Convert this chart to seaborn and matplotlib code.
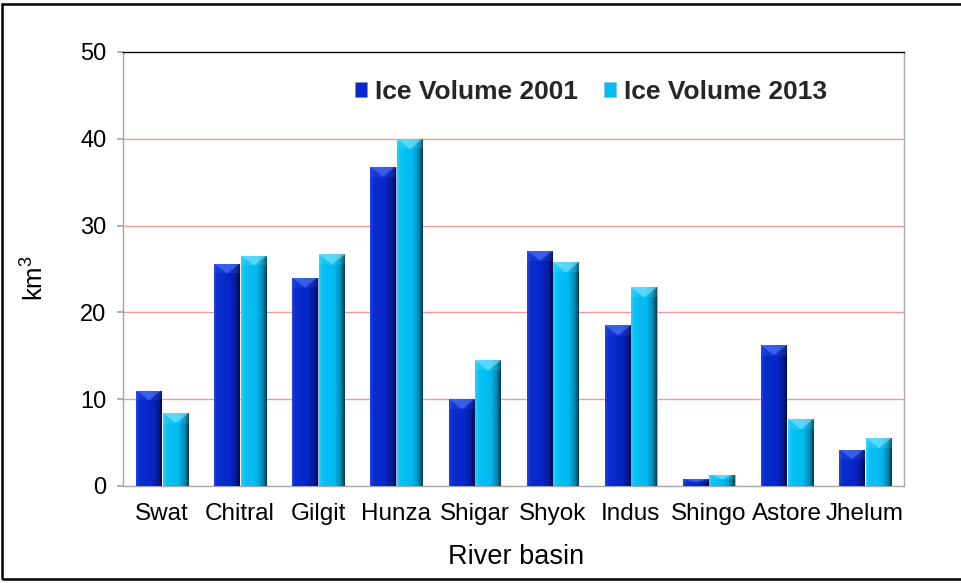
import numpy as np
import pandas as pd
import matplotlib
matplotlib.use("Agg")
import matplotlib.pyplot as plt
from matplotlib.patches import Patch, Rectangle
from matplotlib.colors import LinearSegmentedColormap
import seaborn as sns

basins = ["Swat", "Chitral", "Gilgit", "Hunza", "Shigar", "Shyok", "Indus", "Shingo", "Astore", "Jhelum"]
vol_2001 = [11.0, 25.6, 24.0, 36.8, 10.0, 27.1, 18.5, 0.8, 16.2, 4.2]
vol_2013 = [8.4, 26.5, 26.7, 40.0, 14.5, 25.8, 22.9, 1.3, 7.7, 5.5]
series = ["Ice Volume 2001", "Ice Volume 2013"]
y_ticks = [0, 10, 20, 30, 40, 50]

df = pd.DataFrame({
    "basin": basins * 2,
    "volume": vol_2001 + vol_2013,
    "series": [series[0]] * len(basins) + [series[1]] * len(basins),
})

sns.set_theme(style="white")
plt.rcParams["font.family"] = ["Liberation Sans", "DejaVu Sans"]
plt.rcParams["mathtext.fontset"] = "custom"
plt.rcParams["mathtext.rm"] = "Liberation Sans"
plt.rcParams["mathtext.it"] = "Liberation Sans"
plt.rcParams["mathtext.default"] = "rm"

W, H = 961, 583
fig = plt.figure(figsize=(W / 100, H / 100), dpi=100)
L, R, T, B = 123, 904, 52, 486
ax = fig.add_axes([L / W, (H - B) / H, (R - L) / W, (B - T) / H])

c1, c2 = "#0729CC", "#00BDF2"
sns.barplot(data=df, x="basin", y="volume", hue="series", palette=[c1, c2],
            width=0.68, gap=0.05, saturation=1, legend=False, ax=ax,
            edgecolor="#A8B4D8", linewidth=0.8, zorder=3)

ax.set_ylim(0, 50)
ax.set_yticks(y_ticks)
xlim = ax.get_xlim()

# gradient shading to mimic bevelled bars
cmap1 = LinearSegmentedColormap.from_list("b1", [(0, "#2244E0"), (0.12, "#0A2DD0"), (0.6, "#0627C6"), (0.85, "#041A9C"), (1.0, "#020C48")])
cmap2 = LinearSegmentedColormap.from_list("b2", [(0, "#30D0FA"), (0.12, "#08C2F6"), (0.6, "#00BAF0"), (0.85, "#0088B2"), (1.0, "#0A3848")])
nx, ny = 64, 200
u = np.linspace(0, 1, nx)
bars = [p for p in ax.patches if isinstance(p, Rectangle) and p.get_height() > 0]
for p in bars:
    fc = p.get_facecolor()
    is_first = fc[1] < 0.5
    cm = cmap1 if is_first else cmap2
    x0, w, h = p.get_x(), p.get_width(), p.get_height()
    row = cm(u)[:, :3]
    img = np.repeat(row[None, :, :], ny, axis=0)
    t = np.linspace(0, h, ny)[:, None]  # depth from the top in data units
    cap = min(1.15, h * 0.45)
    tri = t < cap * (1 - np.abs(2 * u[None, :] - 1))
    band = t < cap
    light = np.array([0.35, 0.5, 1.0]) if is_first else np.array([0.55, 0.92, 1.0])
    img = np.where(band[..., None], img * 0.85 + 0.15 * light, img)
    img = np.where(tri[..., None], img * 0.45 + 0.55 * light, img)
    im = ax.imshow(np.clip(img, 0, 1), extent=(x0, x0 + w, 0, h), aspect="auto",
                   interpolation="bilinear", zorder=3.5)
    im.set_clip_path(p)
ax.set_xlim(xlim)
ax.set_ylim(0, 50)

# grid
for yv in y_ticks[1:-1]:
    ax.axhline(yv, color="#F29A9A", lw=1.0, zorder=1)

for s in ["left", "bottom", "right"]:
    ax.spines[s].set_color("#A6A6A6")
    ax.spines[s].set_linewidth(1.0)
ax.spines["top"].set_color("#000000")
ax.spines["top"].set_linewidth(1.0)

ax.tick_params(axis="y", length=4, color="#A6A6A6", pad=8, labelsize=17, labelcolor="#000000", left=True)
ax.tick_params(axis="x", length=0, pad=12.5, labelsize=17.5, labelcolor="#000000")

ax.set_xlabel("River basin", fontsize=19.5, color="#000000")
ax.set_ylabel("km$^3$", fontsize=18.5, color="#000000")
ax.xaxis.set_label_coords((516.5 - L) / (R - L), -(544 - B) / (B - T))
ax.yaxis.set_label_coords(-(123 - 49) / (R - L), 0.48)

handles = [Patch(facecolor=c1, edgecolor="#8090D0", linewidth=0.6),
           Patch(facecolor=c2, edgecolor="#80C8E0", linewidth=0.6)]
ax.legend(handles, series, loc="center", bbox_to_anchor=((591 - L) / (R - L), 0.908), ncol=2,
          frameon=False, prop={"weight": "bold", "size": 19},
          handlelength=0.45, handleheight=0.45, handletextpad=0.3, columnspacing=1.0)

# outer chart border
fig.patches.append(Rectangle((2 / W, (H - 579) / H), 1.2, (579 - 4) / H,
                             transform=fig.transFigure, fill=False,
                             edgecolor="black", linewidth=1.8, zorder=10))

fig.savefig("out.png", dpi=100)
